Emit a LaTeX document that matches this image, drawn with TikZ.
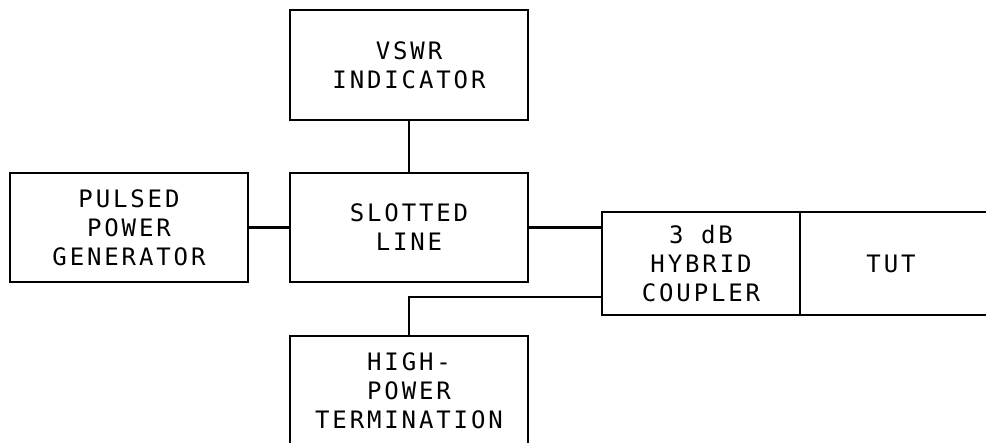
\documentclass[tikz,border=0pt]{standalone}
\usepackage{fontspec}
\newfontfamily\plotfont[LetterSpace=12]{DejaVu Sans Mono}
\tikzset{
  blockbox/.style={draw, line width=2.2pt, align=center, inner sep=0pt, outer sep=0pt,
    minimum width=238pt, minimum height=110pt,
    font=\fontsize{24}{29}\selectfont\plotfont},
  wire/.style={line width=2.2pt}
}
\begin{document}
\begin{tikzpicture}[x=1pt, y=-1pt]
            \clip (0,0) rectangle (986,443);

            % upper row
            \node[blockbox] (vswr) at (409,65) {VSWR\\INDICATOR};
            \node[blockbox, minimum height=109pt] (gen) at (129,227.5) {PULSED\\POWER\\GENERATOR};
            \node[blockbox, minimum height=109pt] (slot) at (409,227.5) {SLOTTED\\LINE};

            % coupler and test unit
            \node[blockbox, minimum width=198pt, minimum height=103pt] (coupler) at (701,263.5) {3 dB\\HYBRID\\COUPLER};
            \node[blockbox, minimum width=240pt, minimum height=103pt, anchor=west,
                  label={[xshift=-29pt, font=\fontsize{24}{29}\selectfont\plotfont]center:TUT}] (tut) at (coupler.east) {};

            % load
            \node[blockbox] (term) at (409,391) {HIGH-\\POWER\\TERMINATION};

            \draw[wire] (vswr.south) -- (slot.north);
            \draw[wire] (gen.east) -- (slot.west);
            \draw[wire] (slot.east) -- (slot.east -| coupler.west);
            \draw[wire] (term.north) |- ([yshift=18pt]coupler.south west);
        \end{tikzpicture}
\end{document}
